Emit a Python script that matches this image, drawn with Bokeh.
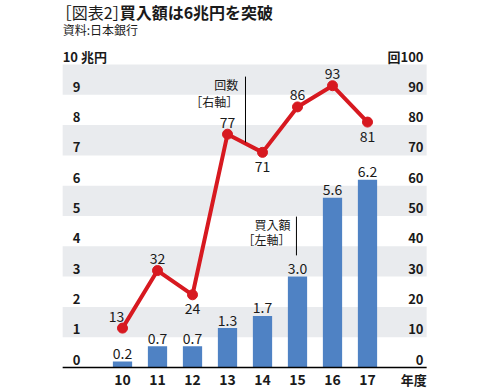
from bokeh.plotting import figure
from bokeh.models import Range1d, ColumnDataSource
from bokeh.core.properties import value
from bokeh.embed import file_html
from bokeh.resources import INLINE

# ---- data ----
years = [10, 11, 12, 13, 14, 15, 16, 17]
year_labels = ["10", "11", "12", "13", "14", "15", "16", "17"]
purchase = [0.2, 0.7, 0.7, 1.3, 1.7, 3.0, 5.6, 6.2]          # 兆円 (left axis)
purchase_labels = ["0.2", "0.7", "0.7", "1.3", "1.7", "3.0", "5.6", "6.2"]
times = [13, 32, 24, 77, 71, 86, 93, 81]                     # 回 (right axis)
times_place = ["above", "above", "below", "above", "below", "above", "above", "below"]
left_ticks = [0, 1, 2, 3, 4, 5, 6, 7, 8, 9]
right_ticks = [0, 10, 20, 30, 40, 50, 60, 70, 80, 90]

FONT = value("Noto Sans CJK JP")
RED = "#d71920"
BLUE = "#4f82c4"
BAND = "#e9ebee"
TXT = "#1a1a1a"

# px per unit: x 35px/year, y 30.3px per 1 兆円
p = figure(width=484, height=390, output_backend="svg", toolbar_location=None,
           x_range=Range1d(6.514, 20.343), y_range=Range1d(-0.759, 12.112),
           min_border=0, outline_line_color=None, background_fill_color="white")
p.axis.visible = False
p.grid.visible = False

XL, XR = 8.29, 18.69

# bands (grey between odd/even ticks)
band_bottom = [1, 3, 5, 7, 9]
p.quad(left=XL, right=XR, bottom=band_bottom, top=[b + 1 for b in band_bottom],
       fill_color=BAND, line_color=None)

# bars (left axis)
p.vbar(x=years, top=purchase, width=0.55, bottom=0, fill_color=BLUE, line_color=None)

# baseline
p.segment(x0=[XL], y0=[0], x1=[XR], y1=[0], line_color="black", line_width=1.5)

# line (right axis scaled 100 -> 10)
ty = [t / 10 for t in times]
p.line(years, ty, line_color=RED, line_width=4)
p.scatter(years, ty, size=10, fill_color=RED, line_color=RED)

# bar labels
p.text(x=years, y=purchase, text=purchase_labels, text_align="center", text_baseline="middle",
       y_offset=-8, text_font=FONT, text_font_size="14px", text_color=TXT)

# line labels
lab_src = ColumnDataSource(dict(
    x=years, y=ty, t=[str(v) for v in times],
    dy=[-12 if pl == "above" else 14 for pl in times_place],
    dx=[-6 if i == 0 else 0 for i in range(len(times))]))
p.text(x="x", y="y", text="t", x_offset="dx", y_offset="dy", source=lab_src,
       text_align="center", text_baseline="middle", text_font=FONT,
       text_font_size="14px", text_color=TXT)

# left tick labels
p.text(x=[8.686] * len(left_ticks), y=left_ticks, text=[str(v) for v in left_ticks],
       text_align="center", text_baseline="middle", y_offset=-8, text_font=FONT,
       text_font_size="13px", text_font_style="bold", text_color=TXT)
p.text(x=[XL], y=[10], text=["10 兆円"], text_align="left", text_baseline="middle",
       y_offset=-8, text_font=FONT, text_font_size="13px", text_font_style="bold", text_color=TXT)

# right tick labels
p.text(x=[18.6] * len(right_ticks), y=[v / 10 for v in right_ticks],
       text=[str(v) for v in right_ticks], text_align="right", text_baseline="middle",
       y_offset=-8, text_font=FONT, text_font_size="13px", text_font_style="bold", text_color=TXT)
p.text(x=[18.6], y=[10], text=["回100"], text_align="right", text_baseline="middle",
       y_offset=-8, text_font=FONT, text_font_size="13px", text_font_style="bold", text_color=TXT)

# category labels
p.text(x=years, y=[0] * len(years), text=year_labels, text_align="center", text_baseline="middle",
       y_offset=12, text_font=FONT, text_font_size="14px", text_font_style="bold", text_color=TXT)
p.text(x=[XR], y=[0], text=["年度"], text_align="right", text_baseline="middle",
       y_offset=12, text_font=FONT, text_font_size="13px", text_font_style="bold", text_color=TXT)

# callouts
p.segment(x0=[13.514, 14.97], y0=[9.60, 4.98], x1=[13.514, 14.97], y1=[7.43, 3.70],
          line_color="black", line_width=1)
p.text(x=[13.31, 13.31], y=[9.34, 8.78], text=["回数", "［右軸］"], text_align="right",
       text_baseline="middle", text_font=FONT, text_font_size="12px", text_color=TXT)
p.text(x=[14.80, 14.80], y=[4.72, 4.22], text=["買入額", "［左軸］"], text_align="right",
       text_baseline="middle", text_font=FONT, text_font_size="12px", text_color=TXT)

# title / source
p.text(x=[XL], y=[11.7], text=["［図表2］"], text_align="left", text_baseline="middle",
       x_offset=-7, y_offset=-1, text_font=FONT, text_font_size="16px", text_color=TXT)
p.text(x=[XL], y=[11.7], text=["買入額は6兆円を突破"], text_align="left", text_baseline="middle",
       x_offset=57, y_offset=-1, text_font=FONT, text_font_size="16px", text_font_style="bold",
       text_color=TXT)
p.text(x=[XL], y=[11.7], text=["資料:日本銀行"], text_align="left", text_baseline="middle",
       y_offset=17, text_font=FONT, text_font_size="12px", text_color=TXT)

open("out.html", "w").write(file_html(p, INLINE))
